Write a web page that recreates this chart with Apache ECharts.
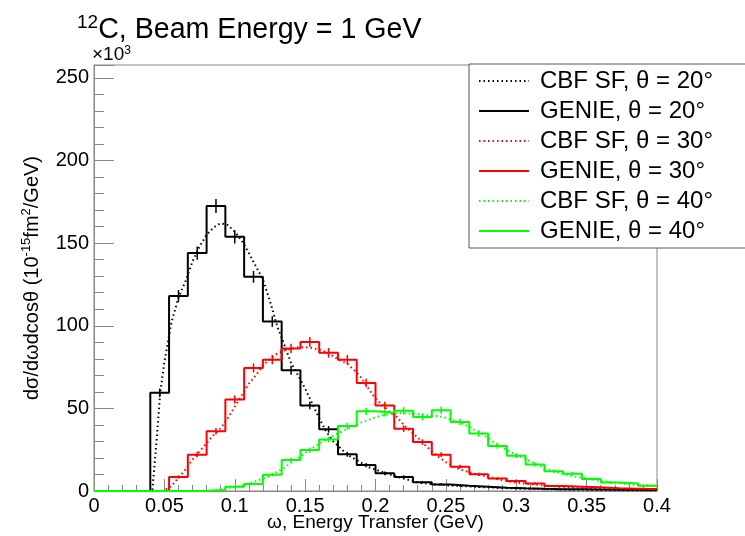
<!DOCTYPE html>
<html><head><meta charset="utf-8">
<script src="https://cdn.jsdelivr.net/npm/echarts@6/dist/echarts.min.js"></script>
<style>html,body{margin:0;padding:0;background:#fff}#c{width:745px;height:536px}</style>
</head><body><div id="c"></div>
<script>
// ---- data (values in units of 10^3 × 10^-15 fm^2/GeV) ----
const xMin = 0, xMax = 0.4, nBins = 30;
const xTicks = [0, 0.05, 0.1, 0.15, 0.2, 0.25, 0.3, 0.35, 0.4];
const yTicks = [0, 50, 100, 150, 200, 250];

const genie20 = [0,0,0,59.4,118,144,172.5,153.8,129.6,102.5,73.1,51.7,37.3,22.2,15.7,10.7,8.5,5.3,4.0,3.2,2.6,2.0,1.6,1.3,1.1,1.0,0.9,0.8,0.7,0.6];
const genie30 = [0,0,0,0,8.5,22.0,36.2,55.4,74.5,79.5,86.2,90.2,83.6,79.5,65.4,51.7,37.7,29.6,22.0,14.7,10.1,7.5,6.0,4.6,3.0,2.6,2.2,1.6,1.4,1.2];
const genie40 = [0,0,0,0,0,0.2,0.6,2.6,4.2,9.9,18.7,24.8,31.2,39.3,48.2,47.3,48.6,44.8,48.9,41.8,34.8,27.2,21.4,16.1,12.0,10.5,7.3,5.2,4.5,3.2];

const err20 = [0,0,0,2.6,3.6,4.0,4.2,4.0,3.6,3.2,2.7,2.3,2.0,1.5,1.3,1.1,1.0,0.8,0.7,0.6,0.5,0.5,0.4,0.4,0.4,0.3,0.3,0.3,0.3,0.3];
const err30 = [0,0,0,0,1.0,1.6,2.0,2.4,2.7,2.8,2.9,3.0,2.9,2.8,2.6,2.3,2.0,1.7,1.5,1.2,1.0,0.9,0.8,0.7,0.6,0.5,0.5,0.4,0.4,0.4];
const err40 = [0,0,0,0,0,0,0.3,0.5,0.7,1.0,1.4,1.6,1.8,2.0,2.2,2.2,2.2,2.1,2.2,2.0,1.9,1.6,1.5,1.3,1.1,1.0,0.9,0.7,0.7,0.6];

const cbf20x = [0,0.040,0.0415,0.0445,0.047,0.050,0.055,0.060,0.065,0.070,0.075,0.080,0.085,0.090,0.095,0.100,0.105,0.110,0.115,0.120,0.125,0.130,0.135,0.140,0.145,0.150,0.155,0.160,0.165,0.170,0.175,0.180,0.185,0.190,0.195,0.200,0.210,0.220,0.230,0.240,0.250,0.260,0.280,0.300,0.320,0.340,0.360,0.380,0.400];
const cbf20y = [0,0,1,31,59,78,102,117,127,139,148,155,159.5,162,161,157,151.5,144,136,128,115,100,89,77.5,70,62,53,44,36,30,26,22,19.5,17,14.5,13,10,7.5,5.2,4.2,3.5,3.0,2.2,1.5,1.1,0.8,0.6,0.5,0.4];

const cbf30x = [0,0.048,0.050,0.055,0.060,0.065,0.070,0.075,0.080,0.085,0.090,0.095,0.100,0.105,0.110,0.115,0.120,0.125,0.130,0.135,0.140,0.145,0.150,0.155,0.160,0.165,0.170,0.175,0.180,0.185,0.190,0.195,0.200,0.205,0.210,0.215,0.220,0.225,0.230,0.235,0.240,0.245,0.250,0.255,0.260,0.270,0.280,0.290,0.300,0.310,0.320,0.330,0.340,0.350,0.360,0.370,0.380,0.390,0.400];
const cbf30y = [0,0,0.5,3,8,13,19,24,29,34,38,44,51,58,65,70,76,80,83,85,86,87,87,86.5,85.5,84,81.5,79,77,73,68.5,62,56,52,48,45,40,36,32.5,28,24,20.5,17.5,15,13,10.5,8.5,6.5,5,4.2,3.3,2.7,2.2,1.8,1.5,1.2,1.0,0.8,0.7];

const cbf40x = [0,0.085,0.090,0.095,0.100,0.105,0.110,0.115,0.120,0.125,0.130,0.135,0.140,0.145,0.150,0.155,0.160,0.165,0.170,0.175,0.180,0.185,0.190,0.195,0.200,0.205,0.210,0.215,0.220,0.225,0.230,0.235,0.240,0.245,0.250,0.255,0.260,0.265,0.270,0.275,0.280,0.285,0.290,0.295,0.300,0.305,0.310,0.315,0.320,0.330,0.340,0.350,0.360,0.370,0.380,0.390,0.400];
const cbf40y = [0,0,1,1.7,2.3,3.2,4.5,6,7.5,9,11.5,14,17,20,23,26,28.5,31,33.5,35.5,37.5,39.5,41.5,43,44.7,45.8,46.5,47,47,46.8,46.5,46,45.7,45.3,44.3,43,41.3,39.5,37,35,32,29,26.5,24,22,20,18,16,14,11,9,7.5,6,5,4,3.4,3];

const names = ['CBF SF, θ = 20°','GENIE, θ = 20°','CBF SF, θ = 30°','GENIE, θ = 30°','CBF SF, θ = 40°','GENIE, θ = 40°'];
const colors = ['#000000','#ff0000','#00ff00'];

// ---- build ----
const bw = (xMax - xMin) / nBins;
function histData(v){ const d=[]; for(let i=0;i<v.length;i++) d.push([xMin+i*bw, v[i]]); d.push([xMax, v[v.length-1]]); return d; }
function errData(v,e){ const d=[]; for(let i=0;i<v.length;i++) if(v[i]>0) d.push([xMin+(i+0.5)*bw, v[i], e[i]]); return d; }
function curve(x,y){ return x.map((xx,i)=>[xx,y[i]]); }
const FONT = '"Liberation Sans", Arial, Helvetica, sans-serif';

function cbfSeries(name, data, color){
  return {name, type:'line', data, showSymbol:false, symbol:'none', yAxisIndex:0, smooth:false,
    lineStyle:{color, width:2, type:[1.5,3]}, itemStyle:{color}, z:3, silent:true};
}
function genieSeries(name, data, color){
  return {name, type:'line', step:'end', data, showSymbol:false, symbol:'none', yAxisIndex:0,
    lineStyle:{color, width:2}, itemStyle:{color}, z:4, silent:true};
}
function errSeries(data, color){
  return {type:'custom', data, yAxisIndex:0, z:5, silent:true,
    renderItem(params, api){
      const x=api.value(0), y=api.value(1), e=api.value(2);
      const p1=api.coord([x,y-e]), p2=api.coord([x,y+e]);
      return {type:'line', shape:{x1:p1[0],y1:p1[1],x2:p2[0],y2:p2[1]}, style:{stroke:color, lineWidth:1.5}};
    }};
}

const chart = echarts.init(document.getElementById('c'), null, {renderer:'canvas'});
chart.setOption({
  animation:false,
  backgroundColor:'#fff',
  textStyle:{fontFamily:FONT},
  title:{
    left:72, top:8,
    text:'{sup|12}{main|C, Beam Energy = 1 GeV}',
    textStyle:{fontWeight:'normal', rich:{
      sup:{fontSize:19, fontFamily:FONT, fontWeight:'normal', color:'#000', verticalAlign:'top', lineHeight:20},
      main:{fontSize:28.6, fontFamily:FONT, fontWeight:'normal', color:'#000', lineHeight:34}
    }}
  },
  graphic:[{type:'text', left:92, top:45, style:{
    text:'×10{s|3}', fontSize:19, fontFamily:FONT, fill:'#000',
    rich:{s:{fontSize:12, fontFamily:FONT, verticalAlign:'top', lineHeight:12}}
  }}],
  grid:{left:94, right:88, top:65, bottom:45, outerBoundsMode:'none', containLabel:false,
    show:true, borderColor:'#888', borderWidth:1, backgroundColor:'transparent'},
  legend:{
    orient:'vertical', left:469, top:64,
    data:names, selectedMode:false,
    backgroundColor:'#fff', borderColor:'#555', borderWidth:1,
    padding:[5,60,5,9], itemWidth:50, itemHeight:14, itemGap:6,
    itemStyle:{opacity:0},
    textStyle:{fontSize:24, lineHeight:24, fontFamily:FONT, color:'#000', padding:[0,0,0,6]}
  },
  xAxis:{
    type:'value', min:xMin, max:xMax, interval:0.05,
    name:'ω, Energy Transfer (GeV)', nameLocation:'middle', nameGap:22, nameMoveOverlap:false,
    nameTextStyle:{fontSize:19, fontFamily:FONT, color:'#000', lineHeight:20},
    axisLine:{show:true, lineStyle:{color:'#888', width:1}},
    axisTick:{show:true, inside:true, length:12, lineStyle:{color:'#888'}},
    minorTick:{show:true, splitNumber:5, length:6, lineStyle:{color:'#888'}},
    splitLine:{show:false},
    axisLabel:{fontSize:20, fontFamily:FONT, color:'#000', margin:5, lineHeight:20,
      formatter:v=>{ const t=xTicks.find(tt=>Math.abs(tt-v)<1e-9); return t===undefined?'':String(t); }}
  },
  yAxis:[{
    type:'value', min:0, max:257.8, interval:10,
    name:'dσ/dωdcosθ (10{s|-15}fm{s|2}/GeV)', nameLocation:'middle', nameGap:50, nameRotate:90, nameMoveOverlap:false,
    nameTextStyle:{fontSize:20, fontFamily:FONT, color:'#000', lineHeight:24,
      rich:{s:{fontSize:13, fontFamily:FONT, verticalAlign:'top', lineHeight:13}}},
    axisLine:{show:true, lineStyle:{color:'#888'}},
    axisTick:{show:true, inside:true, length:10, lineStyle:{color:'#888'}},
    axisLabel:{show:false}, splitLine:{show:false}
  },{
    type:'value', min:0, max:257.8, interval:50, position:'left',
    axisLine:{show:false},
    axisTick:{show:true, inside:true, length:20, lineStyle:{color:'#888'}},
    splitLine:{show:false},
    axisLabel:{fontSize:20, fontFamily:FONT, color:'#000', margin:5,
      formatter:v=>{ const t=yTicks.find(tt=>Math.abs(tt-v)<1e-9); return t===undefined?'':String(t); }}
  }],
  series:[
    cbfSeries(names[0], curve(cbf20x,cbf20y), colors[0]),
    genieSeries(names[1], histData(genie20), colors[0]),
    errSeries(errData(genie20,err20), colors[0]),
    cbfSeries(names[2], curve(cbf30x,cbf30y), colors[1]),
    genieSeries(names[3], histData(genie30), colors[1]),
    errSeries(errData(genie30,err30), colors[1]),
    cbfSeries(names[4], curve(cbf40x,cbf40y), colors[2]),
    genieSeries(names[5], histData(genie40), colors[2]),
    errSeries(errData(genie40,err40), colors[2])
  ]
});
</script></body></html>
